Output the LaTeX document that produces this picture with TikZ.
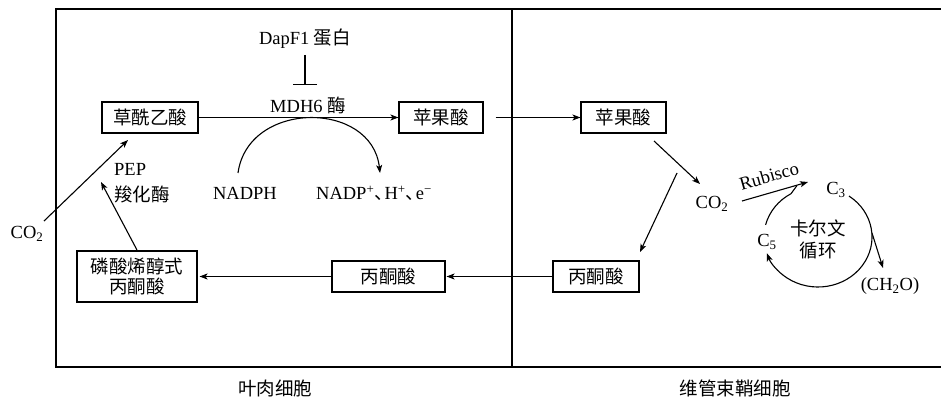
\documentclass[tikz,border=0pt]{standalone}
\usepackage{fontspec}
\setmainfont{Liberation Serif}
\newfontfamily\cjk[Scale=1.0]{Noto Sans CJK SC}
\newcommand{\dun}{{\cjk 、}\kern-0.45em}
\usetikzlibrary{arrows.meta}
\begin{document}
\begin{tikzpicture}[x=1pt,y=-1pt,
  every node/.style={font=\fontsize{18.5}{21}\selectfont, inner sep=1pt},
  box/.style={draw, line width=1.1pt, inner sep=0pt, align=center, minimum height=31pt},
  conn/.style={line width=1.1pt, -{Stealth[length=8pt,width=6pt,inset=2pt]}},
  plain/.style={line width=1.1pt}]
\useasboundingbox (0,0) rectangle (941,398);
% frame
\draw[line width=1.3pt] (941,9) -- (56,9) -- (56,367) -- (941,367);
\draw[line width=1.3pt] (512,9) -- (512,367);
\node (lab1) at (275,388) {\cjk 叶肉细胞};
\node (lab2) at (735,388) {\cjk 维管束鞘细胞};
% boxes
\node[box, minimum width=96pt] (oaa) at (150,117.5) {\cjk 草酰乙酸};
\node[box, minimum width=84pt] (mal1) at (441,117.5) {\cjk 苹果酸};
\node[box, minimum width=85pt] (mal2) at (623.5,117.5) {\cjk 苹果酸};
\node[box, minimum width=113pt] (pyr1) at (388.5,276.5) {\cjk 丙酮酸};
\node[box, minimum width=86pt] (pyr2) at (596,276.5) {\cjk 丙酮酸};
\node[box, minimum width=120pt, minimum height=51pt, font=\fontsize{18.5}{20}\selectfont\cjk] (pep) at (137,276.5) {磷酸烯醇式\\丙酮酸};
% labels
\node (mdh) at (308,105) {MDH6 {\cjk 酶}};
\node (dap) at (305,39) {DapF1 {\cjk 蛋白}};
\node (nadph) at (245,193) {NADPH};
\node (nadp) at (374,193) {NADP\textsuperscript{+}\dun H\textsuperscript{+}\dun e\textsuperscript{−}};
\node[anchor=west] (pepl) at (113,169) {PEP};
\node[anchor=west] (pepc) at (113,194) {\cjk 羧化酶};
\node (co2a) at (27,234) {CO\textsubscript{2}};
\node (co2b) at (712,204) {CO\textsubscript{2}};
\node (c3) at (836,190) {C\textsubscript{3}};
\node (c5) at (767,242) {C\textsubscript{5}};
\node (ch2o) at (890,286) {(CH\textsubscript{2}O)};
\node[rotate=16, inner sep=0pt] (rub) at (769,176) {Rubisco};
\node[align=center, font=\fontsize{18.5}{22}\selectfont\cjk] (calvin) at (818,239) {卡尔文\\循环};
% coordinates
\coordinate (inhS) at (305,55);
\coordinate (inhE) at (305,85);
\coordinate (a1) at (238,173);
\coordinate (a2) at (380,173);
\coordinate (oaaIn) at (128,140);
\coordinate (pepOut) at (137,250);
\coordinate (pepIn) at (101,182);
\coordinate (co2aOut) at (44,221);
\coordinate (malOut) at (654,141);
\coordinate (co2In) at (700,184);
\coordinate (co2Out) at (677,173);
\coordinate (pyrIn) at (640,252);
\coordinate (rubS) at (742,201);
\coordinate (rubE) at (808,182);
\coordinate (merge) at (797,185.5);
\coordinate (cycOut) at (872,233);
\coordinate (ch2oIn) at (883,268);
\coordinate (cyc) at (818,237);
% connectors
\draw[line width=1.1pt, -{Bar[width=24pt,line width=1.1pt]}] (inhS) -- (inhE);
\draw[conn] (oaa) -- (mal1);
\draw[conn] (a1) .. controls (248,100) and (372,100) .. (a2);
\draw[conn] (co2aOut) -- (oaaIn);
\draw[conn] (pepOut) -- (pepIn);
\draw[conn, shorten >=2pt] (pyr1.west) -- (pyr1.west -| pep.east);
\draw[conn, shorten >=1pt] (pyr2.west) -- (pyr2.west -| pyr1.east);
\draw[conn, shorten <=12pt] (mal1.east) -- (mal2.west);
\draw[conn] (malOut) -- (co2In);
\draw[conn] (co2Out) -- (pyrIn);
\draw[conn] (rubS) -- (rubE);
\draw[conn] (cyc) ++(-55:54 and 50) arc[start angle=-55, end angle=161, x radius=54, y radius=50];
\draw[plain] (cyc) ++(194:54 and 50) arc[start angle=194, end angle=240, x radius=54, y radius=50] -- (merge);
\draw[conn] (cycOut) -- (ch2oIn);
\end{tikzpicture}
\end{document}
